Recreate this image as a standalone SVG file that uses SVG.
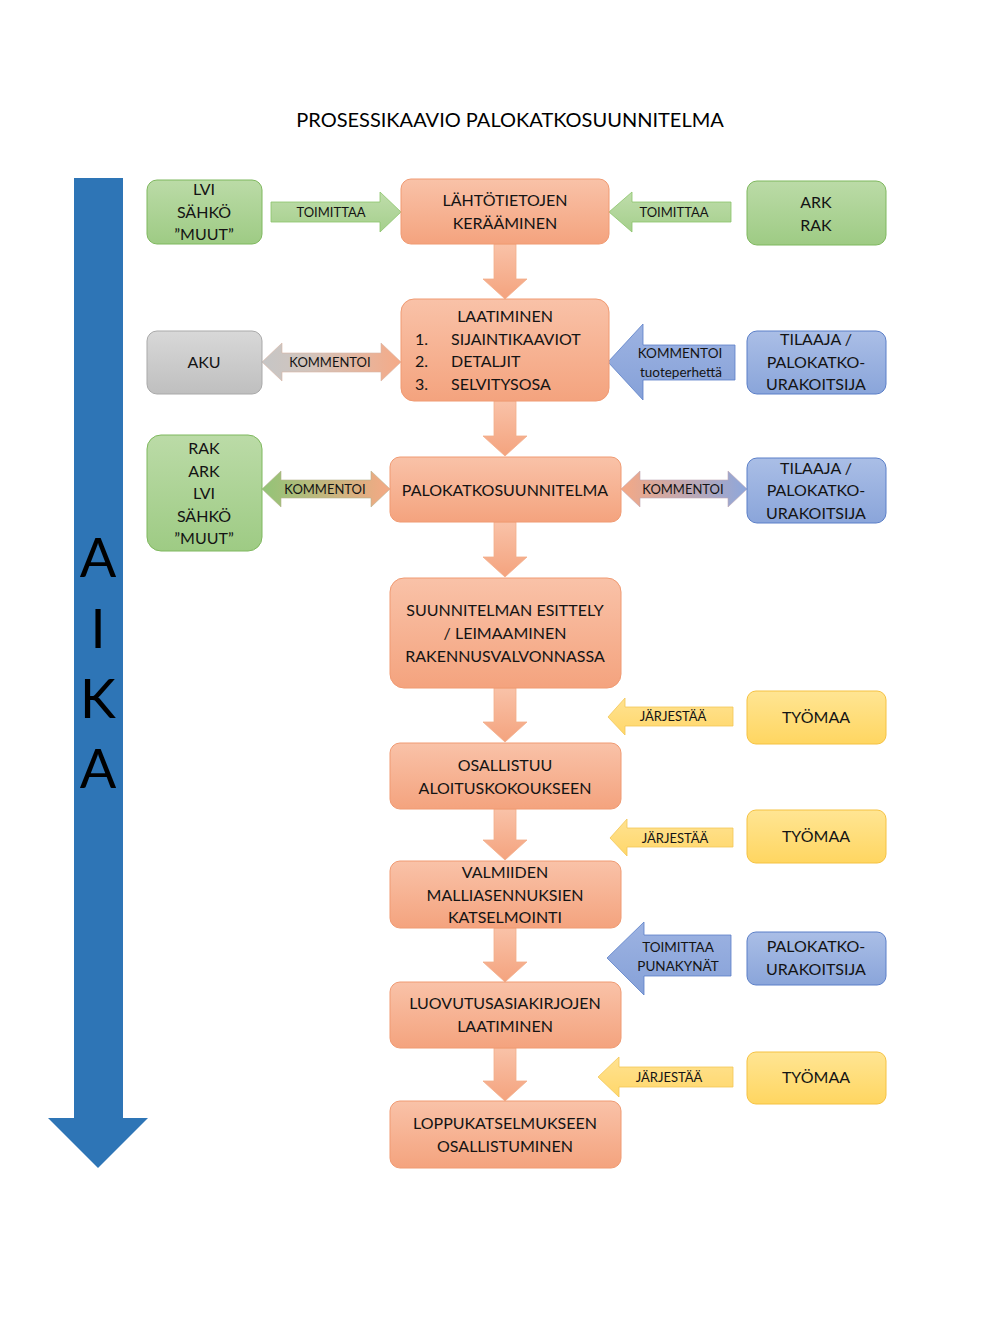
<svg xmlns="http://www.w3.org/2000/svg" width="1008" height="1344" viewBox="0 0 1008 1344">
<style>
text{font-family:Lato,"Open Sans","Liberation Sans",sans-serif;fill:#141414;}
.t{font-size:16px;text-anchor:middle;}
.l{font-size:13px;text-anchor:middle;}
.l2{font-size:13.5px;text-anchor:middle;}
.big{font-size:54px;text-anchor:middle;fill:#000;}
.title{font-size:20px;text-anchor:middle;fill:#000;}
.sal{fill:url(#gSal);stroke:#F09A72;stroke-width:1;}
.grn{fill:url(#gGreen);stroke:#7FB85E;stroke-width:1;}
.gry{fill:url(#gGrey);stroke:#A9A9A9;stroke-width:1;}
.blu{fill:url(#gBlue);stroke:#5B7FC8;stroke-width:1;}
.yel{fill:url(#gYel);stroke:#F5C242;stroke-width:1;}
.asal{fill:url(#gSal);stroke:#F3AE8C;stroke-width:0.8;}
.agrn{fill:url(#gGreenA);stroke:#8CC46B;stroke-width:0.8;}
.ablu{fill:url(#gBlueA);stroke:#5B7FC8;stroke-width:0.8;}
.ayel{fill:url(#gYelA);stroke:#F2C657;stroke-width:0.8;}
</style>
<defs>
<linearGradient id="gSal" x1="0" y1="0" x2="0" y2="1"><stop offset="0" stop-color="#F9C2A8"/><stop offset="1" stop-color="#F4A37E"/></linearGradient>
<linearGradient id="gGreen" x1="0" y1="0" x2="0" y2="1"><stop offset="0" stop-color="#BBDBA7"/><stop offset="1" stop-color="#9ECB84"/></linearGradient>
<linearGradient id="gGreenA" x1="0" y1="0" x2="0" y2="1"><stop offset="0" stop-color="#BFDDAB"/><stop offset="1" stop-color="#A5CF8C"/></linearGradient>
<linearGradient id="gGrey" x1="0" y1="0" x2="0" y2="1"><stop offset="0" stop-color="#D8D8D8"/><stop offset="1" stop-color="#BFBFBF"/></linearGradient>
<linearGradient id="gBlue" x1="0" y1="0" x2="0" y2="1"><stop offset="0" stop-color="#AABEE6"/><stop offset="1" stop-color="#8AA5DA"/></linearGradient>
<linearGradient id="gBlueA" x1="0" y1="0" x2="0" y2="1"><stop offset="0" stop-color="#9DB3E2"/><stop offset="1" stop-color="#86A1D8"/></linearGradient>
<linearGradient id="gYel" x1="0" y1="0" x2="0" y2="1"><stop offset="0" stop-color="#FFE593"/><stop offset="1" stop-color="#FFD661"/></linearGradient>
<linearGradient id="gYelA" x1="0" y1="0" x2="0" y2="1"><stop offset="0" stop-color="#FFE291"/><stop offset="1" stop-color="#FFD76A"/></linearGradient>
<linearGradient id="hGreySal" x1="0" y1="0" x2="1" y2="0"><stop offset="0" stop-color="#C6C6C6"/><stop offset="0.35" stop-color="#D2C4BC"/><stop offset="1" stop-color="#F5AA87"/></linearGradient>
<linearGradient id="hGreenSal" x1="0" y1="0" x2="1" y2="0"><stop offset="0" stop-color="#92C477"/><stop offset="1" stop-color="#F5A985"/></linearGradient>
<linearGradient id="hSalBlue" x1="0" y1="0" x2="1" y2="0"><stop offset="0" stop-color="#F5A985"/><stop offset="1" stop-color="#8EA7DB"/></linearGradient>
</defs>
<rect width="1008" height="1344" fill="#fff"/>

<text class="title" x="510" y="127">PROSESSIKAAVIO PALOKATKOSUUNNITELMA</text>

<g id="aika">
<polygon points="74,178 123,178 123,1118 148,1118 98,1168 48,1118 74,1118" fill="#2E75B6"/>
<text class="big" x="98" y="577">A</text>
<text class="big" x="98" y="648">I</text>
<text class="big" x="98" y="718">K</text>
<text class="big" x="98" y="788">A</text>
</g>

<g id="connectors">
<polygon class="asal" points="494,244 516,244 516,279 527,279 505,299 483,279 494,279"/>
<polygon class="asal" points="494,401 516,401 516,436 527,436 505,456 483,436 494,436"/>
<polygon class="asal" points="494,522 516,522 516,557 527,557 505,577 483,557 494,557"/>
<polygon class="asal" points="494,688 516,688 516,722 527,722 505,742 483,722 494,722"/>
<polygon class="asal" points="494,809 516,809 516,840 527,840 505,860 483,840 494,840"/>
<polygon class="asal" points="494,928 516,928 516,962 527,962 505,982 483,962 494,962"/>
<polygon class="asal" points="494,1048 516,1048 516,1081 527,1081 505,1101 483,1081 494,1081"/>

<polygon class="agrn" points="271,202 380,202 380,192 401,212 380,232 380,222 271,222"/>
<text class="l" x="331" y="217">TOIMITTAA</text>
<polygon class="agrn" points="731,202 632,202 632,192 609,212 632,232 632,222 731,222"/>
<text class="l" x="674" y="217">TOIMITTAA</text>

<polygon points="262,362 282,343 282,353 381,353 381,343 401,362 381,381 381,372 282,372 282,381" fill="url(#hGreySal)" stroke="#D9B6A4" stroke-width="0.6"/>
<text class="l" x="330" y="367">KOMMENTOI</text>
<polygon class="ablu" points="735,345 643,345 643,324 608,362 643,400 643,380 735,380"/>
<text class="l2" x="680" y="358">KOMMENTOI</text>
<text class="l2" x="681" y="377">tuoteperhettä</text>

<polygon points="262,489 281,471 281,480 371,480 371,471 390,489 371,507 371,498 281,498 281,507" fill="url(#hGreenSal)" stroke="#B7B48F" stroke-width="0.6"/>
<text class="l" x="325" y="494">KOMMENTOI</text>
<polygon points="621,489 640,471 640,480 728,480 728,471 747,489 728,507 728,498 640,498 640,507" fill="url(#hSalBlue)" stroke="#C0A8B5" stroke-width="0.6"/>
<text class="l" x="683" y="494">KOMMENTOI</text>

<polygon class="ayel" points="733,707 625,707 625,698 608,717 625,735 625,726 733,726"/>
<text class="l" x="673" y="721">JÄRJESTÄÄ</text>
<polygon class="ayel" points="733,828 627,828 627,819 610,838 627,856 627,847 733,847"/>
<text class="l" x="675" y="843">JÄRJESTÄÄ</text>
<polygon class="ablu" points="731,935 644,935 644,922 607,958 644,995 644,976 731,976"/>
<text class="l2" x="678" y="952">TOIMITTAA</text>
<text class="l2" x="678" y="971">PUNAKYNÄT</text>
<polygon class="ayel" points="733,1067 619,1067 619,1057 598,1077 619,1097 619,1087 733,1087"/>
<text class="l" x="669" y="1082">JÄRJESTÄÄ</text>
</g>

<g id="n-lvi1">
<rect class="grn" x="147" y="180" width="115" height="64" rx="10"/>
<text class="t" x="204" y="195">LVI</text>
<text class="t" x="204" y="218">SÄHKÖ</text>
<text class="t" x="204" y="240">”MUUT”</text>
</g>
<g id="n-lahto">
<rect class="sal" x="401" y="179" width="208" height="65" rx="10"/>
<text class="t" x="505" y="206">LÄHTÖTIETOJEN</text>
<text class="t" x="505" y="229">KERÄÄMINEN</text>
</g>
<g id="n-arkrak">
<rect class="grn" x="747" y="181" width="139" height="64" rx="10"/>
<text class="t" x="816" y="208">ARK</text>
<text class="t" x="816" y="231">RAK</text>
</g>

<g id="n-aku">
<rect class="gry" x="147" y="331" width="115" height="63" rx="10"/>
<text class="t" x="204" y="368">AKU</text>
</g>
<g id="n-laatiminen">
<rect class="sal" x="401" y="299" width="208" height="102" rx="13"/>
<text class="t" x="505" y="322">LAATIMINEN</text>
<text class="t" x="415" y="345" style="text-anchor:start">1.</text>
<text class="t" x="451" y="345" style="text-anchor:start">SIJAINTIKAAVIOT</text>
<text class="t" x="415" y="367" style="text-anchor:start">2.</text>
<text class="t" x="451" y="367" style="text-anchor:start">DETALJIT</text>
<text class="t" x="415" y="390" style="text-anchor:start">3.</text>
<text class="t" x="451" y="390" style="text-anchor:start">SELVITYSOSA</text>
</g>
<g id="n-tilaaja1">
<rect class="blu" x="747" y="331" width="139" height="63" rx="10"/>
<text class="t" x="816" y="345">TILAAJA /</text>
<text class="t" x="816" y="368">PALOKATKO-</text>
<text class="t" x="816" y="390">URAKOITSIJA</text>
</g>

<g id="n-rak">
<rect class="grn" x="147" y="435" width="115" height="116" rx="14"/>
<text class="t" x="204" y="454">RAK</text>
<text class="t" x="204" y="477">ARK</text>
<text class="t" x="204" y="499">LVI</text>
<text class="t" x="204" y="522">SÄHKÖ</text>
<text class="t" x="204" y="544">”MUUT”</text>
</g>
<g id="n-palokatko">
<rect class="sal" x="390" y="457" width="231" height="65" rx="10"/>
<text class="t" x="505" y="496">PALOKATKOSUUNNITELMA</text>
</g>
<g id="n-tilaaja2">
<rect class="blu" x="747" y="458" width="139" height="65" rx="10"/>
<text class="t" x="816" y="474">TILAAJA /</text>
<text class="t" x="816" y="496">PALOKATKO-</text>
<text class="t" x="816" y="519">URAKOITSIJA</text>
</g>

<g id="n-esittely">
<rect class="sal" x="390" y="578" width="231" height="110" rx="14"/>
<text class="t" x="505" y="616">SUUNNITELMAN ESITTELY</text>
<text class="t" x="505" y="639">/ LEIMAAMINEN</text>
<text class="t" x="505" y="662">RAKENNUSVALVONNASSA</text>
</g>
<g id="n-tyomaa1">
<rect class="yel" x="747" y="691" width="139" height="53" rx="9"/>
<text class="t" x="816" y="723">TYÖMAA</text>
</g>
<g id="n-osallistuu">
<rect class="sal" x="390" y="743" width="231" height="66" rx="10"/>
<text class="t" x="505" y="771">OSALLISTUU</text>
<text class="t" x="505" y="794">ALOITUSKOKOUKSEEN</text>
</g>
<g id="n-tyomaa2">
<rect class="yel" x="747" y="810" width="139" height="53" rx="9"/>
<text class="t" x="816" y="842">TYÖMAA</text>
</g>
<g id="n-valmiiden">
<rect class="sal" x="390" y="861" width="231" height="67" rx="10"/>
<text class="t" x="505" y="878">VALMIIDEN</text>
<text class="t" x="505" y="901">MALLIASENNUKSIEN</text>
<text class="t" x="505" y="923">KATSELMOINTI</text>
</g>
<g id="n-palokatko-urak">
<rect class="blu" x="747" y="932" width="139" height="53" rx="9"/>
<text class="t" x="816" y="952">PALOKATKO-</text>
<text class="t" x="816" y="975">URAKOITSIJA</text>
</g>
<g id="n-luovutus">
<rect class="sal" x="390" y="982" width="231" height="66" rx="10"/>
<text class="t" x="505" y="1009">LUOVUTUSASIAKIRJOJEN</text>
<text class="t" x="505" y="1032">LAATIMINEN</text>
</g>
<g id="n-tyomaa3">
<rect class="yel" x="747" y="1052" width="139" height="52" rx="9"/>
<text class="t" x="816" y="1083">TYÖMAA</text>
</g>
<g id="n-loppu">
<rect class="sal" x="390" y="1101" width="231" height="67" rx="10"/>
<text class="t" x="505" y="1129">LOPPUKATSELMUKSEEN</text>
<text class="t" x="505" y="1152">OSALLISTUMINEN</text>
</g>
</svg>
